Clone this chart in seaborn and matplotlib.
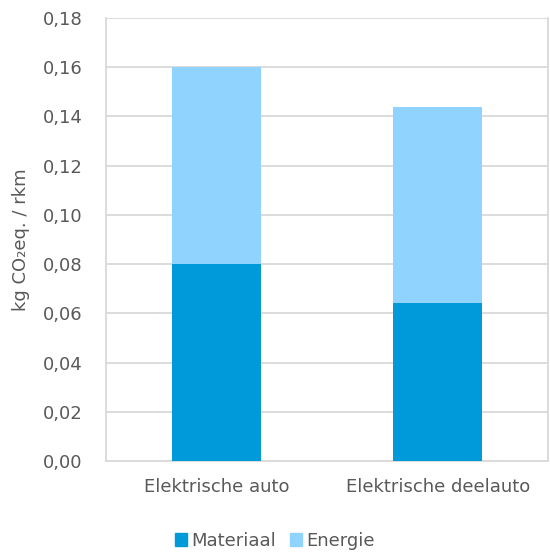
import matplotlib
matplotlib.use("Agg")
import matplotlib.pyplot as plt
import seaborn as sns
import pandas as pd
from matplotlib.patches import Patch
from matplotlib.ticker import FuncFormatter

# Data
categories = ["Elektrische auto", "Elektrische deelauto"]
materiaal = [0.080, 0.064]
energie = [0.080, 0.080]
y_ticks = [0.00, 0.02, 0.04, 0.06, 0.08, 0.10, 0.12, 0.14, 0.16, 0.18]

col_mat = "#009ADA"
col_en = "#8FD3FE"
txt = "#595959"
grid = "#D9D9D9"

sns.set_style("white")
plt.rcParams["font.family"] = ["DejaVu Sans"]

df = pd.DataFrame({"cat": categories, "Materiaal": materiaal, "Energie": energie})
df["Totaal"] = df["Materiaal"] + df["Energie"]

fig = plt.figure(figsize=(5.5, 5.53), dpi=100)
ax = fig.add_axes([0.193, 0.1664, 0.8036, 0.801])

# stacked: total first (energie colour), then materiaal on top of it
sns.barplot(data=df, x="cat", y="Totaal", color=col_en, width=0.4,
            saturation=1, linewidth=0, ax=ax, zorder=3)
sns.barplot(data=df, x="cat", y="Materiaal", color=col_mat, width=0.4,
            saturation=1, linewidth=0, ax=ax, zorder=3)

ax.set_ylim(0, 0.18)
ax.set_xlim(-0.5, 1.5)
ax.set_yticks(y_ticks)
ax.yaxis.set_major_formatter(FuncFormatter(lambda v, p: f"{v:.2f}".replace(".", ",")))
ax.grid(axis="y", color=grid, linewidth=1.3, zorder=0)
ax.set_axisbelow(True)

ax.spines["top"].set_visible(False)
for s in ["left", "right", "bottom"]:
    ax.spines[s].set_color(grid)
    ax.spines[s].set_linewidth(1.3)

ax.tick_params(axis="y", colors=txt, labelsize=13, length=0, pad=17)
ax.tick_params(axis="x", colors=txt, labelsize=13, length=0, pad=12)
ax.set_xlabel("")
ax.set_ylabel("kg CO\u2082eq. / rkm", color=txt, fontsize=13, labelpad=9)

handles = [Patch(color=col_mat, label="Materiaal"), Patch(color=col_en, label="Energie")]
fig.legend(handles=handles, loc="center", bbox_to_anchor=(0.5, 0.022), ncol=2,
           frameon=False, fontsize=13, handlelength=0.65, handleheight=0.65,
           handletextpad=0.25, columnspacing=0.8, labelcolor=txt,
           borderaxespad=0, borderpad=0)

fig.savefig("out.png", dpi=100)
